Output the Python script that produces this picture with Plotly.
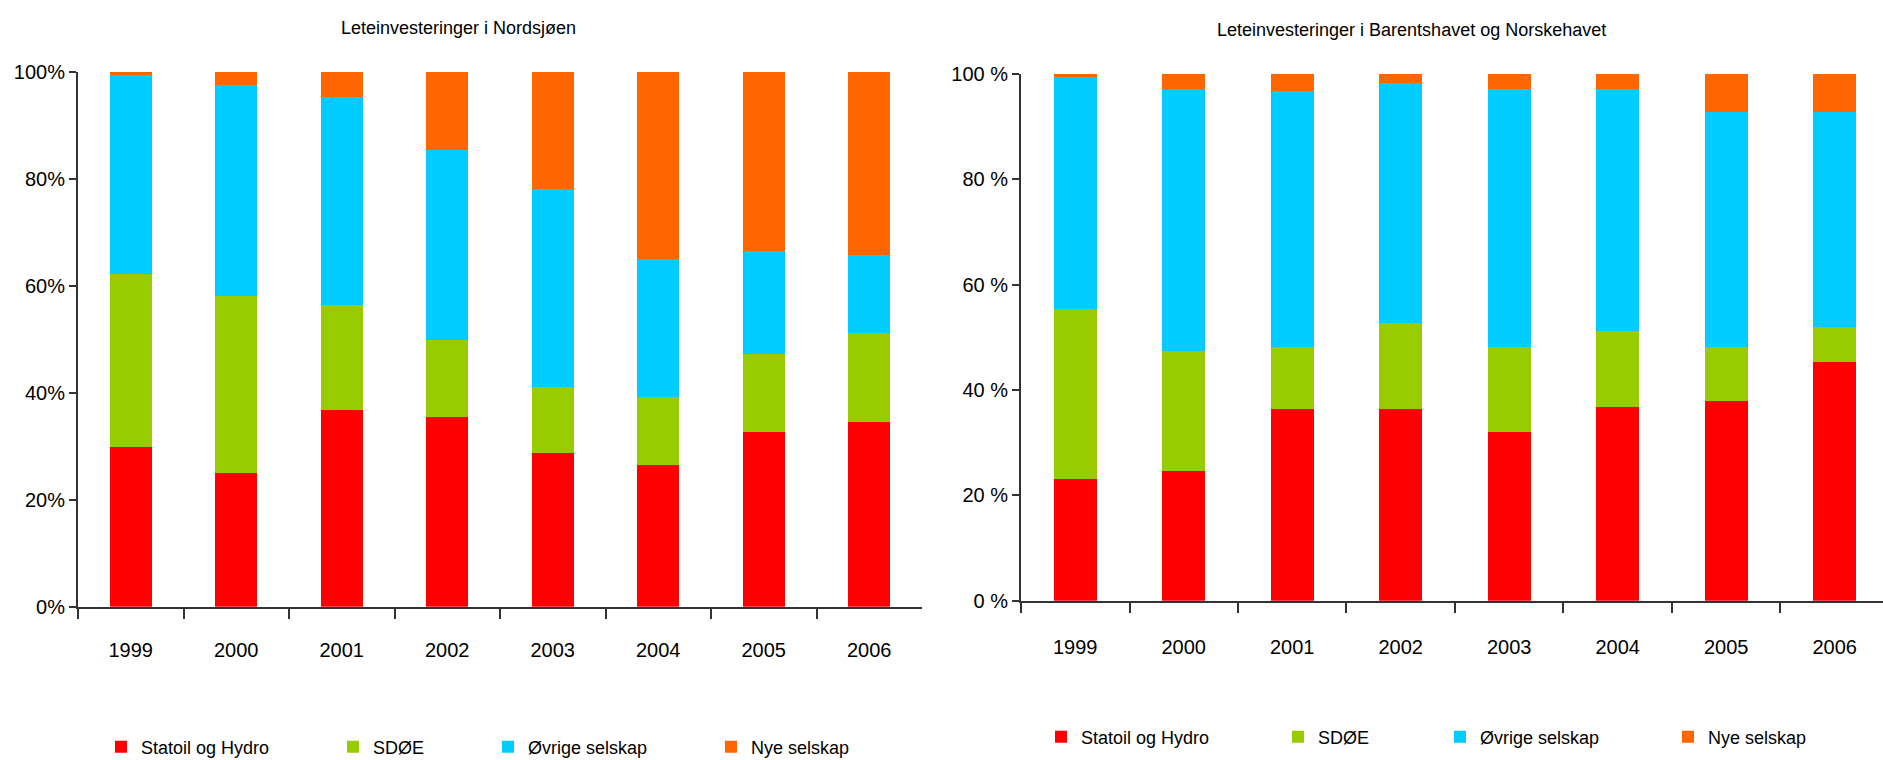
import plotly.graph_objects as go

years = ["1999", "2000", "2001", "2002", "2003", "2004", "2005", "2006"]
series_names = ["Statoil og Hydro", "SDØE", "Øvrige selskap", "Nye selskap"]
colors = ["#FF0000", "#99CC00", "#00CCFF", "#FF6600"]

# Nordsjøen (%)
ns_statoil = [29.8, 25.0, 36.7, 35.5, 28.7, 26.4, 32.7, 34.5]
ns_sdoe = [32.4, 33.1, 19.6, 14.3, 12.3, 12.8, 14.5, 16.7]
ns_ovrige = [37.1, 39.4, 39.0, 35.6, 37.1, 25.8, 19.3, 14.5]
ns_nye = [0.7, 2.5, 4.7, 14.6, 21.9, 35.0, 33.5, 34.3]

# Barentshavet og Norskehavet (%)
bn_statoil = [23.1, 24.6, 36.4, 36.4, 32.0, 36.8, 38.0, 45.4]
bn_sdoe = [32.2, 22.9, 11.8, 16.3, 16.2, 14.4, 10.2, 6.6]
bn_ovrige = [44.1, 49.6, 48.5, 45.5, 48.9, 45.9, 44.5, 40.7]
bn_nye = [0.6, 2.9, 3.3, 1.8, 2.9, 2.9, 7.3, 7.3]

title_left = "Leteinvesteringer i Nordsjøen"
title_right = "Leteinvesteringer i Barentshavet og Norskehavet"
y_ticks = [0, 20, 40, 60, 80, 100]
y_labels_left = ["0%", "20%", "40%", "60%", "80%", "100%"]
y_labels_right = ["0 %", "20 %", "40 %", "60 %", "80 %", "100 %"]

W, H = 1883, 760
FONT = "Liberation Sans, Arial, sans-serif"

fig = go.Figure()

left_data = [ns_statoil, ns_sdoe, ns_ovrige, ns_nye]
right_data = [bn_statoil, bn_sdoe, bn_ovrige, bn_nye]

for i, (name, vals) in enumerate(zip(series_names, left_data)):
    fig.add_trace(go.Bar(
        x=years, y=vals, name=name, marker=dict(color=colors[i], line=dict(width=0)),
        xaxis="x", yaxis="y", legend="legend" if i == 0 else f"legend{i+1}",
        showlegend=True,
    ))
for i, (name, vals) in enumerate(zip(series_names, right_data)):
    fig.add_trace(go.Bar(
        x=years, y=vals, name=name, marker=dict(color=colors[i], line=dict(width=0)),
        xaxis="x2", yaxis="y2", legend=f"legend{i+5}",
        showlegend=True,
    ))

def px_x(p):
    return p / W

def px_y(p):
    return (H - p) / H

axis_font = dict(family=FONT, size=20, color="#000000")

xcommon = dict(type="category", showgrid=False, showline=True, linecolor="#333333", linewidth=2,
               ticks="outside", ticklen=10, tickwidth=2, tickcolor="#333333", tickson="boundaries",
               tickfont=axis_font, zeroline=False, fixedrange=True, automargin=False)
ycommon = dict(range=[0, 100], tickmode="array", tickvals=y_ticks, showgrid=False, showline=True,
               linecolor="#333333", linewidth=2, ticks="outside", ticklen=7, tickwidth=2,
               tickcolor="#333333", tickfont=axis_font, zeroline=False, fixedrange=True,
               automargin=False)

layout = dict(
    width=W, height=H, barmode="stack", bargap=0.6,
    paper_bgcolor="white", plot_bgcolor="white",
    margin=dict(l=0, r=0, t=0, b=0, autoexpand=False),
    font=dict(family=FONT, color="#000000"),
    xaxis=dict(domain=[px_x(78), px_x(922)], anchor="y", range=[-0.5, 7.5],
               ticklabelstandoff=24, **xcommon),
    yaxis=dict(domain=[px_y(606.7), px_y(71.7)], anchor="x", ticktext=y_labels_left, **ycommon),
    xaxis2=dict(domain=[px_x(1021), 1.0], anchor="y2", range=[-0.5, 7.445],
                ticklabelstandoff=27, **xcommon),
    yaxis2=dict(domain=[px_y(600.7), px_y(74)], anchor="x2", ticktext=y_labels_right, **ycommon),
    annotations=[
        dict(text=title_left, x=px_x(458), y=px_y(28), xref="paper", yref="paper",
             showarrow=False, xanchor="center", yanchor="middle",
             font=dict(family=FONT, size=18, color="#000000")),
        dict(text=title_right, x=px_x(1411), y=px_y(30), xref="paper", yref="paper",
             showarrow=False, xanchor="center", yanchor="middle",
             font=dict(family=FONT, size=18, color="#000000")),
    ],
)

legend_left_px = [118, 350, 505, 728, 1058, 1295, 1457, 1685]
legend_y_px = [747] * 4 + [737] * 4
for k in range(8):
    key = "legend" if k == 0 else f"legend{k+1}"
    layout[key] = dict(
        x=px_x(legend_left_px[k] - 17), y=px_y(legend_y_px[k]), xanchor="left", yanchor="middle",
        orientation="h", bgcolor="rgba(0,0,0,0)", borderwidth=0,
        font=dict(family=FONT, size=18, color="#000000"),
        itemclick=False, itemdoubleclick=False,
    )

fig.update_layout(**layout)
fig.write_html(
    "out.html",
    config={"displayModeBar": False},
    post_script="document.body.style.margin='0';document.body.style.overflow='hidden';",
)
